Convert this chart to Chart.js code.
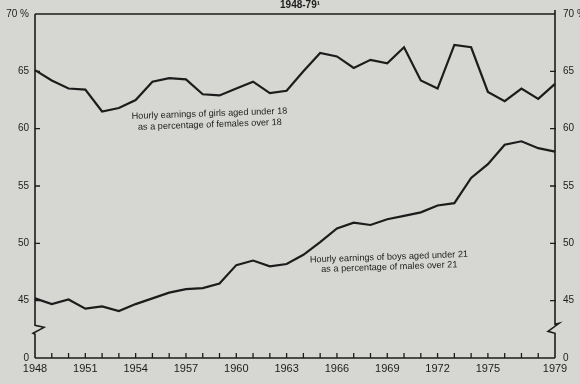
<!DOCTYPE html>
<html>
<head>
<meta charset="utf-8">
<script src="https://cdn.jsdelivr.net/npm/chart.js@4.4.0/dist/chart.umd.min.js"></script>
<style>
    html, body { margin: 0; padding: 0; background: #d6d7d3; }
    #wrap { width: 580px; height: 384px; position: relative; }
</style>
</head>
<body>
<div id="wrap"><canvas id="earningsChart"></canvas></div>
<script>
// years 1948 .. 1979
const years = [1948, 1949, 1950, 1951, 1952, 1953, 1954, 1955, 1956, 1957,
    1958, 1959, 1960, 1961, 1962, 1963, 1964, 1965, 1966, 1967,
    1968, 1969, 1970, 1971, 1972, 1973, 1974, 1975, 1976, 1977, 1978, 1979];

// which years get a printed label
const labelledYears = [1948, 1951, 1954, 1957, 1960, 1963, 1966, 1969, 1972, 1975, 1979];

// girls under 18 as % of females over 18
const girlsPct = [65.1, 64.2, 63.5, 63.4, 61.5, 61.8, 62.5, 64.1, 64.4, 64.3,
    63.0, 62.9, 63.5, 64.1, 63.1, 63.3, 65.0, 66.6, 66.3, 65.3,
    66.0, 65.7, 67.1, 64.2, 63.5, 67.3, 67.1, 63.2, 62.4, 63.5, 62.6, 63.9];

// boys under 21 as % of males over 21
const boysPct = [45.2, 44.7, 45.1, 44.3, 44.5, 44.1, 44.7, 45.2, 45.7, 46.0,
    46.1, 46.5, 48.1, 48.5, 48.0, 48.2, 49.0, 50.1, 51.3, 51.8,
    51.6, 52.1, 52.4, 52.7, 53.3, 53.5, 55.7, 56.9, 58.6, 58.9, 58.3, 58.0];

// value axis: 40 stands for the broken-off "0"
const yTicks = [40, 45, 50, 55, 60, 65, 70];
const breakValue = 42.5;

const girlsLabel = ['Hourly earnings of girls aged under 18', 'as a percentage of females over 18'];
const boysLabel = ['Hourly earnings of boys aged under 21', 'as a percentage of males over 21'];
const titleText = '1948-79\u00b9';

const ink = '#1c1c1c';
const labelFont = '9.2px "Liberation Sans", Arial, sans-serif';

function yLabel(v) {
    if (v === 40) return '0';
    if (v === 70) return '70 %';
    return String(v);
}

// axes, inward ticks, axis breaks and the text notes
const framePlugin = {
    id: 'frame',
    afterDatasetsDraw(chart) {
        const ctx = chart.ctx;
        const a = chart.chartArea;
        const x = chart.scales.x;
        const y = chart.scales.y;
        const yb = y.getPixelForValue(breakValue);

        ctx.save();
        ctx.strokeStyle = ink;
        ctx.lineWidth = 1.6;
        ctx.lineJoin = 'miter';

        // top and bottom lines
        ctx.beginPath();
        ctx.moveTo(a.left, a.top);
        ctx.lineTo(a.right, a.top);
        ctx.moveTo(a.left, a.bottom);
        ctx.lineTo(a.right, a.bottom);
        ctx.stroke();

        // left axis with break
        ctx.beginPath();
        ctx.moveTo(a.left, a.top);
        ctx.lineTo(a.left, yb - 4);
        ctx.lineTo(a.left + 9, yb - 2);
        ctx.lineTo(a.left - 2, yb + 4);
        ctx.lineTo(a.left, yb + 5);
        ctx.lineTo(a.left, a.bottom);
        // right axis with break
        ctx.moveTo(a.right, a.top - 4);
        ctx.lineTo(a.right, yb - 5);
        ctx.lineTo(a.right + 4, yb - 6);
        ctx.lineTo(a.right - 7, yb + 2);
        ctx.lineTo(a.right, yb + 4);
        ctx.lineTo(a.right, a.bottom);
        ctx.stroke();

        // inward ticks on both value axes
        ctx.lineWidth = 1.3;
        ctx.beginPath();
        yTicks.forEach(v => {
            if (v === 40 || v === 70) return;
            const py = y.getPixelForValue(v);
            ctx.moveTo(a.left, py);
            ctx.lineTo(a.left + 5, py);
            ctx.moveTo(a.right - 5, py);
            ctx.lineTo(a.right + 1, py);
        });
        // year ticks pointing up
        years.forEach((yr, i) => {
            if (i === 0 || i === years.length - 1) return;
            const px = x.getPixelForValue(i);
            ctx.moveTo(px, a.bottom);
            ctx.lineTo(px, a.bottom - 5);
        });
        ctx.stroke();

        // notes on the lines
        ctx.fillStyle = ink;
        ctx.font = labelFont;
        ctx.textAlign = 'center';
        ctx.textBaseline = 'middle';
        drawNote(ctx, girlsLabel, x.getPixelForValue(10.4), y.getPixelForValue(61.3), 11);
        drawNote(ctx, boysLabel, x.getPixelForValue(21.1), y.getPixelForValue(48.8), 10);

        // cut-off heading
        ctx.font = 'bold 10px "Liberation Sans", Arial, sans-serif';
        ctx.fillText(titleText, x.getPixelForValue(15.8), a.top - 9);
        ctx.restore();
    }
};

function drawNote(ctx, lines, cx, cy, lineGap) {
    ctx.save();
    ctx.translate(cx, cy);
    ctx.rotate(-0.035);
    lines.forEach((t, i) => ctx.fillText(t, 0, i * lineGap));
    ctx.restore();
}

const lineStyle = {
    borderColor: ink,
    borderWidth: 2.2,
    pointRadius: 0,
    tension: 0,
    fill: false
};

new Chart(document.getElementById('earningsChart').getContext('2d'), {
    type: 'line',
    data: {
        labels: years,
        datasets: [
            Object.assign({ label: 'Girls under 18', data: girlsPct, yAxisID: 'y' }, lineStyle),
            Object.assign({ label: 'Boys under 21', data: boysPct, yAxisID: 'y' }, lineStyle)
        ]
    },
    options: {
        responsive: true,
        maintainAspectRatio: false,
        animation: false,
        layout: { padding: { top: 13, right: 0, left: 0, bottom: 0 } },
        plugins: {
            legend: { display: false },
            tooltip: { enabled: false }
        },
        scales: {
            x: {
                type: 'category',
                offset: false,
                grid: { display: false, drawTicks: false },
                border: { display: false },
                afterFit: s => { s.height = 26; },
                ticks: {
                    autoSkip: false,
                    maxRotation: 0,
                    padding: 4,
                    color: ink,
                    font: { family: '"Liberation Sans", Arial, sans-serif', size: 11 },
                    callback: (v, i) => labelledYears.includes(years[i]) ? String(years[i]) : ''
                }
            },
            y: {
                position: 'left',
                min: 40,
                max: 70,
                grid: { display: false, drawTicks: false },
                border: { display: false },
                afterFit: s => { s.width = 35; },
                afterBuildTicks: s => { s.ticks = yTicks.map(v => ({ value: v })); },
                ticks: {
                    padding: 6,
                    color: ink,
                    font: { family: '"Liberation Sans", Arial, sans-serif', size: 10 },
                    callback: v => yLabel(v)
                }
            },
            y2: {
                position: 'right',
                min: 40,
                max: 70,
                grid: { display: false, drawTicks: false },
                border: { display: false },
                afterFit: s => { s.width = 25; },
                afterBuildTicks: s => { s.ticks = yTicks.map(v => ({ value: v })); },
                ticks: {
                    padding: 8,
                    color: ink,
                    font: { family: '"Liberation Sans", Arial, sans-serif', size: 10 },
                    callback: v => yLabel(v)
                }
            }
        }
    },
    plugins: [framePlugin]
});
</script>
</body>
</html>
